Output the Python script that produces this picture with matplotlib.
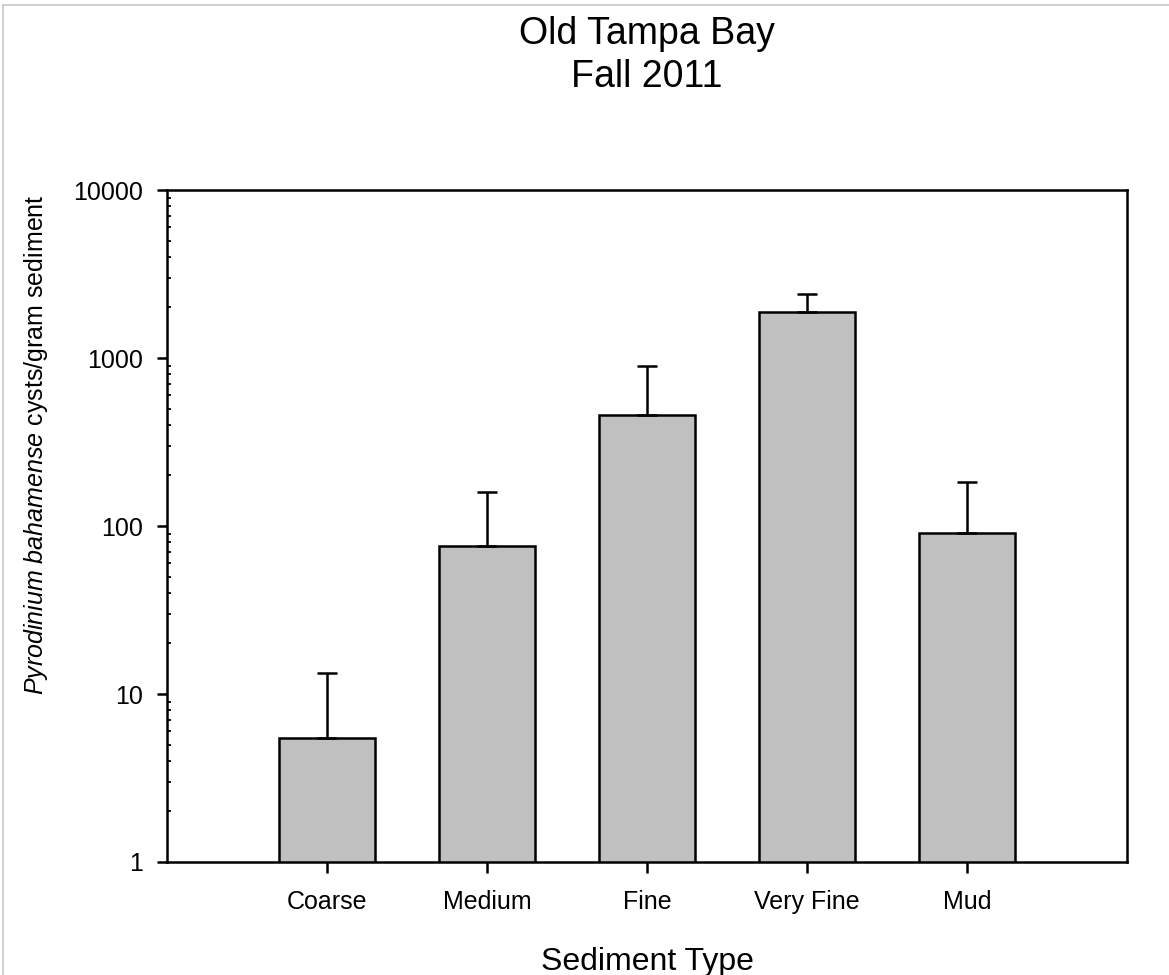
import numpy as np
import matplotlib.pyplot as plt
from matplotlib.lines import Line2D

# cyst counts per sediment class (mean and upper error)
sediment = ['Coarse', 'Medium', 'Fine', 'Very Fine', 'Mud']
mean_cysts = [5.47, 76, 458, 1879, 90.9]
err_cysts = [7.8, 83, 438, 525, 92]

plt.rcParams['font.family'] = ['Liberation Sans', 'DejaVu Sans']
plt.rcParams['mathtext.fontset'] = 'custom'
plt.rcParams['mathtext.rm'] = 'Liberation Sans'
plt.rcParams['mathtext.it'] = 'Liberation Sans:italic'

fig = plt.figure(figsize=(11.69, 9.75), dpi=100)
ax = fig.add_axes([0.1429, 0.1159, 0.8212, 0.6892])

x = np.arange(len(sediment))
ax.bar(x, mean_cysts, width=0.6, color='#c0c0c0', edgecolor='black', linewidth=1.8)
ax.errorbar(x, mean_cysts, yerr=[np.zeros(len(x)), err_cysts], fmt='none',
            ecolor='black', elinewidth=1.8, capsize=7.5, capthick=1.8)

ax.set_yscale('log')
ax.set_ylim(1, 10000)
ax.set_xlim(-1, 5)
ax.set_xticks(x)
ax.set_xticklabels(sediment, fontsize=18)
ax.set_yticks([1, 10, 100, 1000, 10000])
ax.set_yticklabels(['1', '10', '100', '1000', '10000'], fontsize=18)

for s in ax.spines.values():
    s.set_linewidth(1.8)
ax.tick_params(axis='y', which='major', direction='out', length=7, width=1.8, pad=10)
ax.tick_params(axis='y', which='minor', direction='in', length=3, width=1.3)
ax.tick_params(axis='x', which='major', direction='out', length=8, width=1.8, pad=12)
ax.tick_params(axis='x', which='minor', bottom=False)

ax.set_xlabel('Sediment Type', fontsize=23, labelpad=24)

# y label sits a little above the axes centre
fig.text(36 / 1169, 1 - 445 / 975,
         r'$\it{Pyrodinium\ bahamense}$ cysts/gram sediment',
         rotation=90, ha='center', va='center', fontsize=18)

fig.text(0.5535, 0.984, 'Old Tampa Bay\nFall 2011', ha='center', va='top',
         fontsize=27, linespacing=1.25)

# thin grey frame on the top and left edges
fig.add_artist(Line2D([0.0026, 1], [0.9945, 0.9945], color='#c8c8c8', lw=1.2))
fig.add_artist(Line2D([0.0026, 0.0026], [0, 0.9945], color='#c8c8c8', lw=1.2))

fig.savefig('out.png', dpi=100)
